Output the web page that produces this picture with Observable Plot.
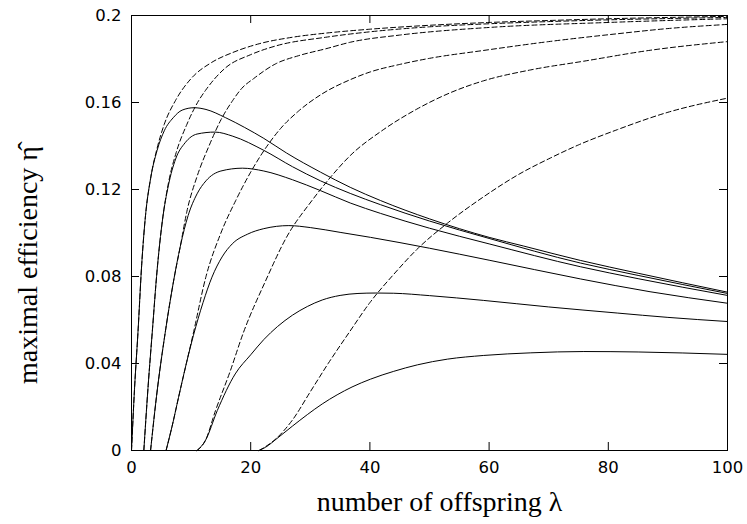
<!DOCTYPE html>
<html><head><meta charset="utf-8">
<script src="https://cdn.jsdelivr.net/npm/d3@7"></script>
<script src="https://cdn.jsdelivr.net/npm/@observablehq/plot@0.6"></script>
<style>body{margin:0;background:#fff}</style>
</head><body><div id="chart"></div>
<script>
// Tick values and labels
const xTicks = [0, 20, 40, 60, 80, 100];
const xTickLabels = ["0", "20", "40", "60", "80", "100"];
const yTicks = [0, 0.04, 0.08, 0.12, 0.16, 0.2];
const yTickLabels = ["0", "0.04", "0.08", "0.12", "0.16", "0.2"];
const xTitle = "number of offspring λ";
const yTitle = "maximal efficiency η̂";

// Solid curves: [lambda, eta]
const solidA = [[0,0],[0.5,0.028],[1.1,0.055],[1.7,0.085],[2.35,0.108],[3.2,0.125],[4.3,0.138],[5.5,0.147],[7,0.153],[8.5,0.1565],[10.5,0.1576],[12.5,0.1568],[15.8,0.153],[19,0.1485],[22.2,0.1435],[26,0.1368],[31.7,0.128],[36.7,0.121],[41.8,0.1149],[50,0.1065],[60,0.098],[65.8,0.094],[75.3,0.0874],[85,0.0815],[100,0.0728]];
const solidB = [[2.07,0],[2.8,0.03],[3.5,0.055],[4.3,0.083],[5.2,0.106],[6.2,0.122],[7.4,0.134],[9,0.1415],[11,0.1455],[14,0.1464],[17,0.1445],[22.2,0.138],[27,0.1305],[31.7,0.124],[36.7,0.1182],[41.8,0.113],[50,0.1055],[60,0.0975],[75.3,0.0862],[85,0.0805],[100,0.0722]];
const solidC = [[3.2,0],[4.2,0.025],[5.7,0.055],[7,0.077],[8.2,0.094],[9.5,0.108],[11,0.118],[12.5,0.124],[15,0.1285],[18.6,0.1298],[22.2,0.1285],[27,0.1245],[31.7,0.1195],[36.7,0.1138],[41.8,0.109],[50,0.1022],[60,0.095],[75.3,0.0845],[85,0.079],[100,0.0713]];
const solidD = [[5.8,0],[6.8,0.011],[7.9,0.0245],[9.2,0.040],[10.4,0.053],[12,0.068],[13.5,0.0797],[15.2,0.089],[16.9,0.095],[19.5,0.0995],[22.2,0.102],[26.4,0.1034],[30,0.1025],[35,0.1003],[40.1,0.098],[50,0.093],[60,0.0875],[75.3,0.0789],[87,0.073],[100,0.0677]];
const solidE = [[11,0],[12.4,0.0046],[14.4,0.0184],[17.4,0.0352],[20,0.044],[22.2,0.051],[24.5,0.057],[27,0.0622],[29.5,0.0662],[32,0.0692],[35,0.0713],[38,0.0722],[41,0.0724],[44,0.0723],[50,0.0712],[59.1,0.069],[70,0.066],[81.5,0.0632],[90,0.0612],[100,0.0593]];
const solidF = [[21.4,0],[22.5,0.0015],[24.4,0.0055],[27,0.0112],[29.5,0.0165],[32,0.0214],[34.5,0.0256],[37,0.0292],[40.1,0.0328],[44,0.0364],[48,0.0394],[53,0.042],[59.1,0.0437],[67,0.0449],[75.9,0.0455],[85,0.0453],[100,0.0442]];

// Dashed curves: [lambda, eta]
const dashA = [[0,0],[0.5,0.028],[1.1,0.055],[1.7,0.085],[2.35,0.108],[3.2,0.125],[4.3,0.139],[5.5,0.150],[7.4,0.161],[10,0.171],[13.5,0.1785],[17,0.183],[21.4,0.187],[27,0.190],[32.6,0.1919],[40,0.1937],[50,0.1955],[60,0.1968],[70,0.1977],[80,0.1985],[90,0.1991],[100,0.1996]];
const dashB = [[2.07,0],[2.8,0.03],[3.5,0.055],[4.3,0.083],[5.2,0.106],[6.2,0.123],[7.5,0.137],[9.3,0.150],[11.3,0.161],[12.4,0.1655],[15.8,0.176],[20,0.182],[24.2,0.186],[32.6,0.190],[40,0.1925],[50,0.1948],[60,0.1962],[70,0.1972],[80,0.198],[90,0.1986],[100,0.1991]];
const dashC = [[3.2,0],[4.2,0.025],[5.7,0.055],[7,0.077],[8.2,0.094],[9.3,0.110],[11,0.126],[13,0.140],[15,0.152],[17,0.161],[18.5,0.1665],[20.5,0.171],[24.2,0.1778],[28,0.1815],[32.6,0.1847],[36.7,0.1877],[45,0.191],[60,0.1945],[80,0.1968],[100,0.1985]];
const dashD = [[5.8,0],[6.8,0.011],[7.9,0.0245],[9.2,0.040],[10.3,0.053],[12.5,0.080],[15,0.100],[17.5,0.115],[20,0.128],[22.5,0.139],[25,0.148],[28,0.156],[32,0.164],[36.7,0.1705],[40,0.174],[45,0.1775],[50,0.1803],[59,0.1839],[70,0.188],[81.5,0.1916],[90,0.194],[100,0.1959]];
const dashE = [[11,0],[12.4,0.0046],[14.1,0.0184],[16.5,0.036],[18.8,0.0544],[22.5,0.078],[26,0.098],[30.3,0.115],[33.5,0.126],[36.7,0.1356],[42,0.147],[47.9,0.157],[53.5,0.1645],[59.1,0.170],[67,0.175],[75.9,0.179],[87,0.184],[100,0.188]];
const dashF = [[21.4,0],[22.5,0.0018],[23.9,0.0046],[27,0.014],[30,0.027],[33,0.040],[36.7,0.055],[40,0.068],[44,0.081],[47.9,0.0925],[53,0.1045],[59,0.1165],[65,0.127],[70.3,0.1345],[75,0.1405],[81.5,0.1475],[90,0.1555],[100,0.162]];

const toRows = (list) => list.flatMap(([name, pts]) => pts.map(([lambda, eta]) => ({series: name, lambda, eta})));
const solidRows = toRows([["A", solidA], ["B", solidB], ["C", solidC], ["D", solidD], ["E", solidE], ["F", solidF]]);
const dashRows = toRows([["A", dashA], ["B", dashB], ["C", dashC], ["D", dashD], ["E", dashE], ["F", dashF]]);

const W = 747, H = 524, mL = 131, mR = 20, mT = 15, mB = 74;
const innerW = W - mL - mR, innerH = H - mT - mB, tick = 8;
const tickFont = "'DejaVu Sans', 'Liberation Sans', Arial, sans-serif";
const titleFont = "'Liberation Serif', 'Times New Roman', serif";

const chart = Plot.plot({
  width: W, height: H,
  marginLeft: mL, marginRight: mR, marginTop: mT, marginBottom: mB,
  style: {background: "#fff", color: "#000", overflow: "visible"},
  x: {domain: [0, 100], axis: null},
  y: {domain: [0, 0.2], axis: null},
  marks: [
    Plot.line(solidRows, {x: "lambda", y: "eta", z: "series", stroke: "#000", strokeWidth: 1, curve: "monotone-x"}),
    Plot.line(dashRows, {x: "lambda", y: "eta", z: "series", stroke: "#000", strokeWidth: 1, strokeDasharray: "5,3", curve: "monotone-x"}),
    Plot.frame({stroke: "#000", strokeWidth: 1}),
    Plot.tickX(xTicks, {x: d => d, insetTop: innerH - tick, stroke: "#000"}),
    Plot.tickX(xTicks, {x: d => d, insetBottom: innerH - tick, stroke: "#000"}),
    Plot.tickY(yTicks, {y: d => d, insetRight: innerW - tick, stroke: "#000"}),
    Plot.tickY(yTicks, {y: d => d, insetLeft: innerW - tick, stroke: "#000"}),
    Plot.text(xTicks, {x: d => d, frameAnchor: "bottom", lineAnchor: "middle", dy: 17, text: (d, i) => xTickLabels[i], fontSize: 16.5, fontFamily: tickFont, fill: "#000"}),
    Plot.text(yTicks, {y: d => d, frameAnchor: "left", dx: -10, textAnchor: "end", lineAnchor: "middle", text: (d, i) => yTickLabels[i], fontSize: 16.5, fontFamily: tickFont, fill: "#000"}),
    Plot.text([xTitle], {frameAnchor: "bottom", textAnchor: "middle", lineAnchor: "middle", dy: 52, dx: 10, text: d => d, fontSize: 28, fontFamily: titleFont, fill: "#000"}),
    Plot.text([yTitle], {frameAnchor: "left", textAnchor: "middle", lineAnchor: "middle", dx: -103, dy: 32, rotate: -90, text: d => d, fontSize: 28, fontFamily: titleFont, fill: "#000"})
  ]
});
document.getElementById("chart").append(chart);
</script>
</body></html>
